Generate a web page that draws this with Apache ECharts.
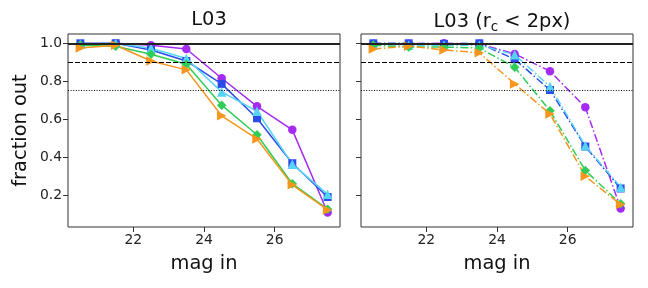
<!DOCTYPE html>
<html><head><meta charset="utf-8">
<script src="https://cdn.jsdelivr.net/npm/echarts@6/dist/echarts.min.js"></script>
<style>html,body{margin:0;padding:0;background:#fff}#c{width:648px;height:288px}</style>
</head><body><div id="c"></div>
<script>
const magIn = [20.5, 21.5, 22.5, 23.5, 24.5, 25.5, 26.5, 27.5];
const xTicks = [22, 24, 26];
const yTicks = [0.2, 0.4, 0.6, 0.8, 1.0];
const titles = ['L03', 'L03 (r{sub|c} < 2px)'];

// left panel: L03
const leftPurple = [0.99, 1.0, 0.99, 0.97, 0.816, 0.668, 0.544, 0.108];
const leftBlue   = [1.0, 1.0, 0.965, 0.907, 0.786, 0.605, 0.368, 0.19];
const leftCyan   = [0.995, 1.0, 0.974, 0.92, 0.744, 0.642, 0.363, 0.204];
const leftGreen  = [0.99, 0.985, 0.942, 0.89, 0.674, 0.518, 0.26, 0.126];
const leftOrange = [0.975, 0.99, 0.907, 0.86, 0.618, 0.496, 0.254, 0.122];

// right panel: L03 (rc < 2px)
const rightPurple = [0.997, 0.997, 1.0, 0.997, 0.944, 0.853, 0.663, 0.13];
const rightBlue   = [1.0, 1.0, 0.997, 1.0, 0.916, 0.754, 0.456, 0.235];
const rightCyan   = [0.993, 0.99, 0.99, 0.99, 0.94, 0.772, 0.46, 0.242];
const rightGreen  = [0.99, 0.98, 0.98, 0.975, 0.874, 0.644, 0.33, 0.154];
const rightOrange = [0.97, 0.985, 0.965, 0.95, 0.786, 0.628, 0.30, 0.15];

const refLines = [1.0, 0.9, 0.75];

const colors = {purple:'#a32bf2', blue:'#2c4be8', cyan:'#56d3f6', green:'#30cc58', orange:'#f7961c'};
const FONT = 'DejaVu Sans';
const chart = echarts.init(document.getElementById('c'), null, {renderer:'canvas'});

function pts(vals){ return magIn.map((x,i)=>[x, vals[i]]); }
function mk(name, vals, color, symbol, gi, dash, rotate){
  return {
    type:'line', name, xAxisIndex:gi, yAxisIndex:gi, data:pts(vals),
    symbol, symbolSize: symbol==='circle'?8.5:(symbol==='rect'?8:9.5), symbolRotate: rotate||0,
    showSymbol:true, animation:false,
    lineStyle:{color, width:1.5, type: dash ? [8,2.5,1.5,2.5] : 'solid'},
    itemStyle:{color, borderWidth:0}, z:3
  };
}
function refSeries(gi){
  return {
    type:'line', xAxisIndex:gi, yAxisIndex:gi, data:[], silent:true,
    markLine:{symbol:'none', silent:true, label:{show:false}, animation:false,
      data:[
        {yAxis:refLines[0], lineStyle:{color:'#222', width:1.8, type:'solid'}},
        {yAxis:refLines[1], lineStyle:{color:'#000', width:1, type:[5,2]}},
        {yAxis:refLines[2], lineStyle:{color:'#000', width:1, type:[1,1.6]}}
      ]}, z:2
  };
}
const grids = [
  {left:68, top:34, width:272, height:193, show:true, borderColor:'#333', borderWidth:1, backgroundColor:'transparent'},
  {left:361, top:34, width:272, height:193, show:true, borderColor:'#333', borderWidth:1, backgroundColor:'transparent'}
];
function xAx(gi){
  return {type:'value', gridIndex:gi, min:20.15, max:27.85,
    name:'mag in', nameLocation:'middle', nameGap:27,
    nameTextStyle:{fontFamily:FONT, fontSize:19.4, color:'#111'},
    axisLine:{show:false}, splitLine:{show:false},
    axisTick:{show:true, inside:false, length:5, customValues:xTicks, lineStyle:{color:'#333'}},
    axisLabel:{show:true, customValues:xTicks, margin:6, fontFamily:FONT, fontSize:13.9, color:'#222'}};
}
function yAx(gi){
  return {type:'value', gridIndex:gi, min:0.032, max:1.049,
    name: gi===0 ? 'fraction out' : '', nameLocation:'middle', nameGap:38, nameRotate:90,
    nameTextStyle:{fontFamily:FONT, fontSize:19.4, color:'#111'},
    axisLine:{show:false}, splitLine:{show:false},
    axisTick:{show:true, inside:false, length:5, customValues:yTicks, lineStyle:{color:'#333'}},
    axisLabel:{show: gi===0, customValues:yTicks, margin:6, fontFamily:FONT, fontSize:13.9, color:'#222',
      formatter:v=>v.toFixed(1)}};
}
const series = [
  refSeries(0), refSeries(1),
  mk('p', leftPurple, colors.purple, 'circle', 0, false),
  mk('b', leftBlue, colors.blue, 'rect', 0, false),
  mk('c', leftCyan, colors.cyan, 'triangle', 0, false),
  mk('g', leftGreen, colors.green, 'diamond', 0, false),
  mk('o', leftOrange, colors.orange, 'triangle', 0, false, -90),
  mk('p2', rightPurple, colors.purple, 'circle', 1, true),
  mk('b2', rightBlue, colors.blue, 'rect', 1, true),
  mk('c2', rightCyan, colors.cyan, 'triangle', 1, true),
  mk('g2', rightGreen, colors.green, 'diamond', 1, true),
  mk('o2', rightOrange, colors.orange, 'triangle', 1, true, -90)
];
chart.setOption({
  animation:false,
  backgroundColor:'#fff',
  title:[
    {text:titles[0], left:204, top:5, textAlign:'center', textStyle:{fontFamily:FONT, fontSize:19.4, fontWeight:'normal', color:'#111'}},
    {text:titles[1], left:497, top:5, textAlign:'center', textStyle:{fontFamily:FONT, fontSize:19.4, fontWeight:'normal', color:'#111',
      rich:{sub:{fontFamily:FONT, fontSize:13.5, verticalAlign:'bottom', padding:[10,0,0,0], color:'#111'}}}}
  ],
  grid:grids,
  xAxis:[xAx(0), xAx(1)],
  yAxis:[yAx(0), yAx(1)],
  series
});
</script></body></html>
